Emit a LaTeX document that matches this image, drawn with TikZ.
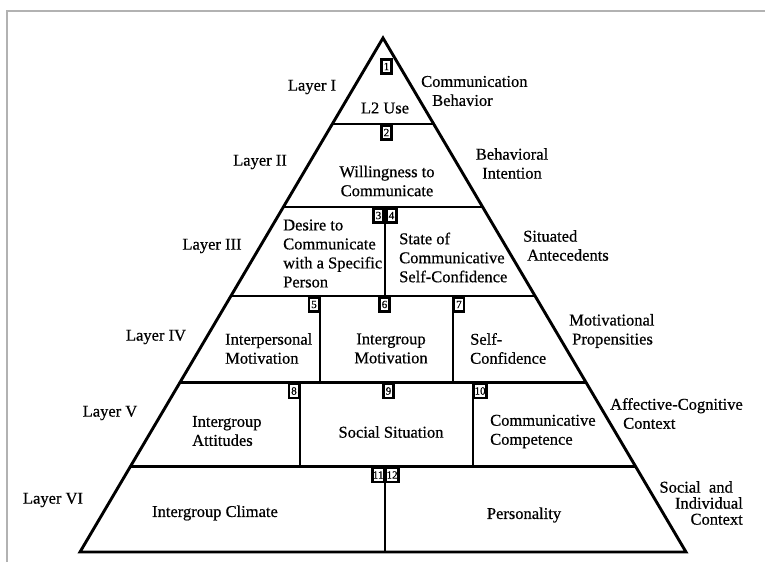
\documentclass[tikz,border=0pt]{standalone}
\usepackage{fontspec}
\setmainfont[FakeBold=0.6]{Liberation Serif}
\usetikzlibrary{calc}
\begin{document}
\begin{tikzpicture}[x=1pt,y=-1pt,
  edge/.style={line width=2.9pt, line join=miter},
  numbox/.style={draw, line width=2.6pt, fill=white, font=\fontsize{11}{11}\selectfont, inner sep=0.6pt, minimum width=10pt, minimum height=14pt, outer sep=0pt},
  txt/.style={font=\fontsize{16.5}{19}\selectfont, inner sep=0pt},
]
\useasboundingbox (0,0) rectangle (765,562);
\draw[black!30, line width=1.2pt] (7,562) -- (7,11) -- (765,11);
\coordinate (apex) at (383,38);
\coordinate (bl) at (80,552);
\coordinate (br) at (686,552);
\foreach \t/\n in {0.1673/1,0.3288/2,0.5019/3,0.6702/4,0.8337/5} {
  \coordinate (L\n) at ($(apex)!\t!(bl)$);
  \coordinate (R\n) at ($(apex)!\t!(br)$);
}
\draw[edge] (apex) -- (bl) -- (br) -- cycle;
\foreach \n in {1,...,5} \draw[edge] (L\n) -- (R\n);
% dividers
\coordinate (d3t) at (385,207);   \coordinate (d3b) at (385,296);
\coordinate (d4at) at (320,296);  \coordinate (d4ab) at (320,382.5);
\coordinate (d4bt) at (453,296);  \coordinate (d4bb) at (453,382.5);
\coordinate (d5at) at (300,382.5);\coordinate (d5ab) at (300,466.5);
\coordinate (d5bt) at (473,382.5);\coordinate (d5bb) at (473,466.5);
\coordinate (d6t) at (385,466.5); \coordinate (d6b) at (385,552);
\draw[edge] (d3t) -- (d3b);
\draw[edge] (d4at) -- (d4ab);
\draw[edge] (d4bt) -- (d4bb);
\draw[edge] (d5at) -- (d5ab);
\draw[edge] (d5bt) -- (d5bb);
\draw[edge] (d6t) -- (d6b);
% number boxes
\node[numbox, anchor=north] (b1) at (386.5,59.5) {1};
\node[numbox, anchor=north] (b2) at (386.5,125.5) {2};
\node[numbox, anchor=north east] (b3) at (383.5,208.5) {3};
\node[numbox, anchor=north west] (b4) at (386.5,208.5) {4};
\node[numbox, anchor=north east] (b5) at (319,297.5) {5};
\node[numbox, anchor=north] (b6) at (384.5,297.5) {6};
\node[numbox, anchor=north west] (b7) at (454,297.5) {7};
\node[numbox, anchor=north east] (b8) at (299,384) {8};
\node[numbox, anchor=north] (b9) at (388.5,384) {9};
\node[numbox, anchor=north west] (b10) at (474,384) {10};
\node[numbox, anchor=north east] (b11) at (384,468) {11};
\node[numbox, anchor=north west] (b12) at (386,468) {12};
% texts
\node[txt] (lay1) at (312,87) {Layer I};
\node[txt, align=left, anchor=west] (cb) at (421,91) {Communication\\\hspace*{11pt}Behavior};
\node[txt] (l2) at (385,108) {L2 Use};
\node[txt] (lay2) at (260,162) {Layer II};
\node[txt, align=center] (wtc) at (387,181) {Willingness to\\Communicate};
\node[txt, align=center] (bi) at (512,163.5) {Behavioral\\Intention};
\node[txt] (lay3) at (212,246) {Layer III};
\node[txt, align=left, anchor=west] (dtc) at (283,253.5) {Desire to\\Communicate\\with a Specific\\Person};
\node[txt, align=left, anchor=west] (soc) at (399,257.5) {State of\\Communicative\\Self-Confidence};
\node[txt, align=left, anchor=west] (sa) at (523,245.5) {Situated\\\hspace*{4pt}Antecedents};
\node[txt] (lay4) at (156,337) {Layer IV};
\node[txt, align=left, anchor=west] (im) at (225,348.5) {Interpersonal\\Motivation};
\node[txt, align=center] (igm) at (391,348.5) {Intergroup\\Motivation};
\node[txt, align=left, anchor=west] (sc) at (470,348.5) {Self-\\Confidence};
\node[txt, align=left, anchor=west] (mp) at (569,331) {Motivational\\\hspace*{3pt}Propensities};
\node[txt] (lay5) at (110,413) {Layer V};
\node[txt, align=left, anchor=west] (ia) at (192,431) {Intergroup\\Attitudes};
\node[txt] (ss) at (391,432) {Social Situation};
\node[txt, align=left, anchor=west] (cc) at (490,431.5) {Communicative\\Competence};
\node[txt, align=left, anchor=west] (acc) at (610,413.5) {Affective-Cognitive\\\hspace*{13pt}Context};
\node[txt] (lay6) at (53,500) {Layer VI};
\node[txt] (igc) at (215,513) {Intergroup Climate};
\node[txt] (pers) at (524,515) {Personality};
\node[txt, align=right, anchor=east, font=\fontsize{16.5}{16}\selectfont] (sic) at (743,503) {Social\ \ and\hspace*{10pt}\\Individual\\Context};
\end{tikzpicture}
\end{document}
